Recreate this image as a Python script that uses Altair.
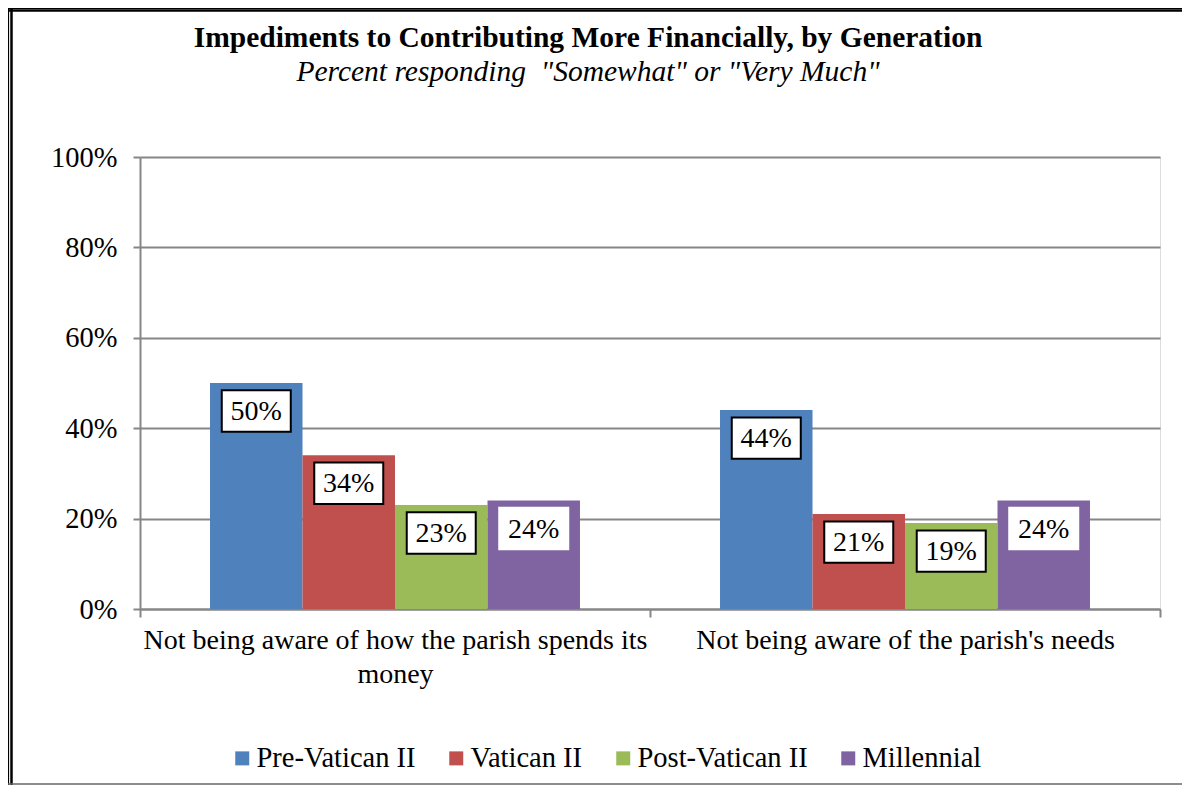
import altair as alt
import pandas as pd

categories = ["Not being aware of how the parish spends its money",
              "Not being aware of the parish's needs"]
generations = ["Pre-Vatican II", "Vatican II", "Post-Vatican II", "Millennial"]
pre_vatican = [50, 44]
vatican = [34, 21]
post_vatican = [23, 19]
millennial = [24, 24]
colors = ["#4F81BD", "#C0504D", "#9BBB59", "#8064A2"]
y_ticks = [0, 20, 40, 60, 80, 100]
title_text = "Impediments to Contributing More Financially, by Generation"
subtitle_text = 'Percent responding\u00a0 "Somewhat" or "Very Much"'

rows = []
for g, vals in zip(generations, [pre_vatican, vatican, post_vatican, millennial]):
    for c, v in zip(categories, vals):
        rows.append({"category": c, "generation": g, "value": v, "label": f"{v}%"})
df = pd.DataFrame(rows)

FONT = "Liberation Serif"
GRID = "#868686"
W, H = 1020, 452

x = alt.X("category:N", sort=categories, title=None,
          scale=alt.Scale(paddingInner=0, paddingOuter=0),
          axis=alt.Axis(tickBand="extent", labelAngle=0, labelFontSize=28, labelFont=FONT,
                        labelColor="black", labelLimit=700,
                        labelExpr="datum.label == 'Not being aware of how the parish spends its money' ? ['Not being aware of how the parish spends its', 'money'] : datum.label",
                        labelLineHeight=34, tickSize=8, tickColor=GRID, tickWidth=2,
                        domainColor=GRID, domainWidth=2, labelPadding=9, grid=False))
xoff = alt.XOffset("generation:N", sort=generations,
                   scale=alt.Scale(paddingInner=0, paddingOuter=0.757))
y = alt.Y("value:Q", scale=alt.Scale(domain=[0, 100]), title=None,
          axis=alt.Axis(values=y_ticks, labelExpr="datum.value + '%'", labelFontSize=28.5,
                        labelFont=FONT, labelColor="black", tickSize=7, tickColor=GRID,
                        tickWidth=2, domainColor=GRID, domainWidth=2, gridColor=GRID,
                        gridWidth=2, labelPadding=16))

base = alt.Chart(df)

bars = base.mark_bar(opacity=1).encode(
    x=x, xOffset=xoff, y=y,
    color=alt.Color("generation:N", sort=generations,
                    scale=alt.Scale(domain=generations, range=colors),
                    legend=alt.Legend(title=None, orient="none", legendX=88, legendY=587,
                                      direction="horizontal", symbolType="square",
                                      symbolSize=196, symbolStrokeWidth=0,
                                      labelFontSize=28.5, labelFont=FONT, labelColor="black",
                                      columnPadding=26, labelOffset=0, padding=0,
                                      labelLimit=400)),
)

boxes = base.mark_point(shape="M-1,-0.6L1,-0.6L1,0.6L-1,0.6Z", filled=True, fill="white",
                        size=4761, strokeWidth=2, opacity=1, yOffset=28).encode(
    x=x, xOffset=xoff, y=y,
    stroke=alt.condition(alt.datum.generation == "Millennial", alt.value("white"), alt.value("black")),
)

texts = base.mark_text(font=FONT, fontSize=28, color="black", baseline="middle",
                       align="center", yOffset=29).encode(
    x=x, xOffset=xoff, y=y, text="label:N")

one = pd.DataFrame({"k": [0]})
fr = alt.Chart(one)
title_mark = fr.mark_text(text=title_text, font=FONT, fontSize=29.5, fontWeight="bold",
                          color="black", align="center", baseline="middle").encode(
    x=alt.value(448), y=alt.value(-119))
subtitle_mark = fr.mark_text(text=subtitle_text, font=FONT, fontSize=29.5, fontStyle="italic",
                             color="black", align="center", baseline="middle").encode(
    x=alt.value(448), y=alt.value(-85))

left_outer = fr.mark_rule(color="black", strokeWidth=1.2).encode(
    x=alt.value(-131.5), y=alt.value(-149), y2=alt.value(628))
left_inner = fr.mark_rule(color="black", strokeWidth=2.5).encode(
    x=alt.value(-128.5), y=alt.value(-149), y2=alt.value(628))
top_inner = fr.mark_rule(color="black", strokeWidth=2.5).encode(
    x=alt.value(-132), x2=alt.value(1042), y=alt.value(-146.5))
top_outer = fr.mark_rule(color="black", strokeWidth=1.2).encode(
    x=alt.value(-132), x2=alt.value(1042), y=alt.value(-148.5))
bottom = fr.mark_rule(color="#666666", strokeWidth=1.5).encode(
    x=alt.value(-132), x2=alt.value(1042), y=alt.value(627))

chart = alt.layer(bars, boxes, texts, title_mark, subtitle_mark,
                  left_outer, left_inner, top_outer, top_inner, bottom).properties(
    width=W, height=H,
    autosize=alt.AutoSizeParams(type="none"),
    padding={"left": 132, "top": 149, "right": 22, "bottom": 176},
).configure_view(stroke=None).configure(background="white")

chart.save("out.html", embed_options={"renderer": "svg", "actions": False})
